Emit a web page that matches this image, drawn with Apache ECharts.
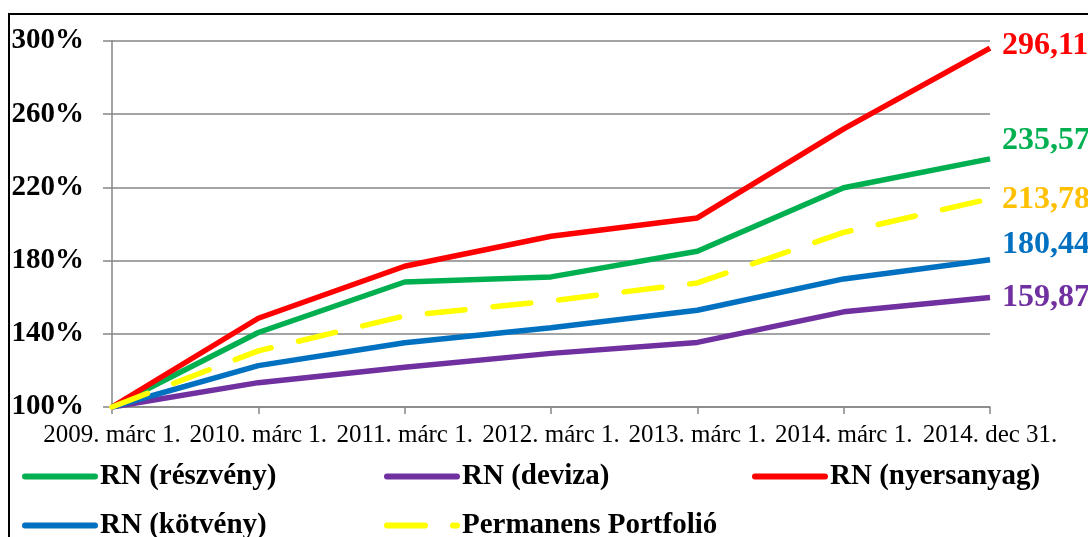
<!DOCTYPE html>
<html>
<head>
<meta charset="utf-8">
<script src="https://cdn.jsdelivr.net/npm/echarts@6/dist/echarts.min.js"></script>
<style>
  html, body { margin: 0; padding: 0; background: #fff; }
  #chart { width: 1088px; height: 537px; }
</style>
</head>
<body>
<div id="chart"></div>
<script>
// dates on the x axis
var categories = ['2009. márc 1.', '2010. márc 1.', '2011. márc 1.', '2012. márc 1.',
  '2013. márc 1.', '2014. márc 1.', '2014. dec 31.'];

// cumulative value, % of start
var reszveny = [100, 140.7, 168.3, 171.1, 185.1, 219.8, 235.57];
var deviza = [100, 113.3, 121.7, 129.3, 135.3, 152.0, 159.87];
var nyersanyag = [100, 148.5, 176.9, 193.3, 203.3, 252.0, 296.11];
var kotveny = [100, 122.6, 135.1, 143.3, 152.9, 170.0, 180.44];
var permanens = [100, 130.7, 149.8, 158.0, 167.8, 195.4, 213.78];

var FONT = '"Liberation Serif", "Times New Roman", serif';
var GRID_GRAY = '#868686';

function lineSeries(name, values, color, labelColor, offsetY, dashed) {
  return {
    name: name,
    type: 'line',
    data: values,
    symbol: 'none',
    showSymbol: false,
    smooth: false,
    lineStyle: {
      color: color,
      width: 5.5,
      type: dashed ? [38, 28] : 'solid',
      cap: dashed ? 'round' : 'butt'
    },
    itemStyle: { color: color },
    // value printed after the last point
    endLabel: {
      show: true,
      distance: 12,
      offset: [0, offsetY],
      color: labelColor,
      fontFamily: FONT,
      fontWeight: 'bold',
      fontSize: 32,
      formatter: function(p) {
        var v = Array.isArray(p.value) ? p.value[1] : p.value;
        return v.toFixed(2).replace('.', ',');
      }
    },
    emphasis: { disabled: true },
    animation: false
  };
}

function legendAt(name, left, top) {
  return {
    data: [name],
    left: left,
    top: top,
    itemWidth: 70,
    itemHeight: 14,
    padding: 0,
    selectedMode: false,
    itemStyle: { color: 'rgba(0,0,0,0)', borderWidth: 0, opacity: 0 },
    lineStyle: { width: 6, cap: 'round' },
    textStyle: {
      fontFamily: FONT,
      fontWeight: 'bold',
      fontSize: 29,
      color: '#000'
    }
  };
}

var chart = echarts.init(document.getElementById('chart'));

chart.setOption({
  backgroundColor: '#fff',
  animation: false,
  grid: { left: 112, right: 98, top: 41, bottom: 130 },
  legend: [
    legendAt('RN (részvény)', 22, 462),
    legendAt('RN (deviza)', 384, 462),
    legendAt('RN (nyersanyag)', 752, 462),
    legendAt('RN (kötvény)', 22, 511),
    legendAt('Permanens Portfolió', 384, 511)
  ],
  xAxis: {
    type: 'category',
    data: categories,
    boundaryGap: false,
    axisLine: { lineStyle: { color: GRID_GRAY, width: 1.5 } },
    axisTick: { show: true, length: 7, lineStyle: { color: GRID_GRAY, width: 1.5 } },
    axisLabel: {
      interval: 0,
      margin: 16,
      color: '#000',
      fontFamily: FONT,
      fontSize: 25
    },
    splitLine: { show: false }
  },
  yAxis: {
    type: 'value',
    min: 100,
    max: 300,
    interval: 40,
    axisLine: { show: true, lineStyle: { color: GRID_GRAY, width: 1.5 } },
    axisTick: { show: true, length: 9, lineStyle: { color: GRID_GRAY, width: 1.5 } },
    axisLabel: {
      margin: 28,
      color: '#000',
      fontFamily: FONT,
      fontWeight: 'bold',
      fontSize: 29,
      formatter: '{value}%'
    },
    splitLine: { lineStyle: { color: GRID_GRAY, width: 1.5 } }
  },
  graphic: [{
    type: 'rect',
    shape: { x: 9, y: 14, width: 1200, height: 600 },
    style: { fill: 'none', stroke: '#000', lineWidth: 2 },
    silent: true,
    z: -10
  }],
  series: [
    lineSeries('RN (részvény)', reszveny, '#00B050', '#00B050', -18, false),
    lineSeries('RN (deviza)', deviza, '#7030A0', '#7030A0', 0, false),
    lineSeries('RN (nyersanyag)', nyersanyag, '#FF0000', '#FF0000', -2, false),
    lineSeries('RN (kötvény)', kotveny, '#0070C0', '#0070C0', -15, false),
    lineSeries('Permanens Portfolió', permanens, '#FFFF00', '#FFC000', 1, true)
  ]
});
</script>
</body>
</html>
